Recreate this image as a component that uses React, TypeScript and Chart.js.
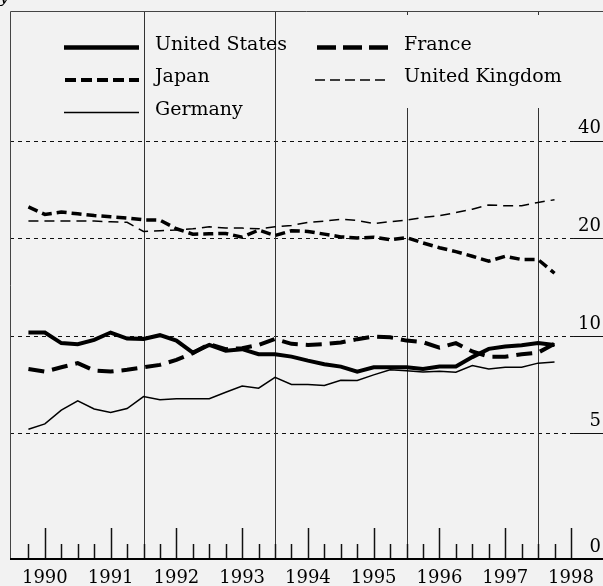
import React, { useEffect, useRef } from "react";
import { Chart, registerables } from "chart.js";

Chart.register(...registerables);

// ---------- data ----------
const quarters = [
  "1989Q4",
  "1990Q1", "1990Q2", "1990Q3", "1990Q4",
  "1991Q1", "1991Q2", "1991Q3", "1991Q4",
  "1992Q1", "1992Q2", "1992Q3", "1992Q4",
  "1993Q1", "1993Q2", "1993Q3", "1993Q4",
  "1994Q1", "1994Q2", "1994Q3", "1994Q4",
  "1995Q1", "1995Q2", "1995Q3", "1995Q4",
  "1996Q1", "1996Q2", "1996Q3", "1996Q4",
  "1997Q1", "1997Q2", "1997Q3", "1997Q4",
];

const unitedStates = [
  10.24, 10.24, 9.5, 9.43, 9.72, 10.24, 9.81, 9.79, 10.05, 9.67, 8.88,
  9.38, 9.0, 9.1, 8.78, 8.78, 8.63, 8.39, 8.18, 8.04, 7.76, 8.0,
  8.0, 8.0, 7.91, 8.04, 8.04, 8.6, 9.12, 9.27, 9.36, 9.5, 9.38,
];

const france = [
  7.9, 7.76, 8.0, 8.24, 7.82, 7.76, 7.86, 8.0, 8.14, 8.43, 8.84,
  9.43, 9.1, 9.16, 9.38, 9.79, 9.45, 9.38, 9.43, 9.54, 9.77, 9.95,
  9.9, 9.67, 9.56, 9.2, 9.5, 8.95, 8.63, 8.63, 8.78, 8.88, 9.45,
];

const japan = [
  25.0, 23.7, 24.1, 23.8, 23.5, 23.3, 23.1, 22.8, 22.75, 21.4, 20.6,
  20.65, 20.7, 20.15, 21.2, 20.4, 21.1, 21.0, 20.6, 20.2, 20.05, 20.15,
  19.8, 20.1, 19.35, 18.7, 18.2, 17.6, 17.0, 17.6, 17.2, 17.2, 15.6,
];

const unitedKingdom = [
  22.6, 22.6, 22.6, 22.6, 22.6, 22.5, 22.4, 21.0, 21.1, 21.2, 21.4,
  21.7, 21.5, 21.5, 21.4, 21.7, 21.9, 22.4, 22.6, 22.9, 22.7, 22.2,
  22.5, 22.75, 23.2, 23.5, 24.0, 24.6, 25.35, 25.2, 25.2, 25.8, 26.3,
];

const germany = [
  5.15, 5.35, 5.9, 6.3, 5.95, 5.8, 5.97, 6.5, 6.35, 6.4, 6.4,
  6.4, 6.7, 7.0, 6.9, 7.45, 7.08, 7.08, 7.03, 7.3, 7.28, 7.58,
  7.86, 7.8, 7.74, 7.78, 7.72, 8.1, 7.9, 8.0, 8.0, 8.24, 8.3,
];

const yearTicks = [1990, 1991, 1992, 1993, 1994, 1995, 1996, 1997, 1998];
const yTickValues = [5, 10, 20, 40];
const yFloorLabel = "0";
const dividerYears = [1991.5, 1993.5, 1995.5, 1997.5];

// ---------- axis ranges & styling ----------
const X_MIN = 1989.4697;
const X_MAX = 1998.0455;
const Y_MIN = 2.05;
const Y_MAX = 100.5;
const FONT = '"DejaVu Serif", serif';
const BG = "#f2f2f2";
const INK = "#000";

const quarterToX = (q: string) => {
  const yr = parseInt(q.slice(0, 4), 10);
  const qn = parseInt(q.slice(5), 10);
  return yr + (qn - 1) * 0.25;
};

const toPoints = (vals: number[]) =>
  quarters.map((q, i) => ({ x: quarterToX(q), y: vals[i] }));

type SeriesStyle = {
  label: string;
  data: number[];
  width: number;
  dash: number[];
  legendDash: number[];
  legendWidth: number;
};

const series: SeriesStyle[] = [
  { label: "United States", data: unitedStates, width: 4, dash: [], legendDash: [], legendWidth: 4.5 },
  { label: "France", data: france, width: 4, dash: [16, 8], legendDash: [19, 7], legendWidth: 4.5 },
  { label: "Japan", data: japan, width: 3.5, dash: [10, 5], legendDash: [11, 5], legendWidth: 4 },
  { label: "United Kingdom", data: unitedKingdom, width: 1.5, dash: [10, 6], legendDash: [10, 5], legendWidth: 1.5 },
  { label: "Germany", data: germany, width: 1.5, dash: [], legendDash: [], legendWidth: 1.5 },
];

// legend layout: [series index, sample start x, sample end x, text x, baseline y]
const legendLayout: [number, number, number, number, number][] = [
  [0, 64, 139, 155, 49.5],
  [1, 317, 389, 404, 49.5],
  [2, 65, 139, 155, 82],
  [3, 315, 386, 404, 82],
  [4, 64, 139, 155, 114.5],
];

const bgPlugin = {
  id: "bgFill",
  beforeDraw(chart: any) {
    const { ctx, width, height } = chart;
    ctx.save();
    ctx.fillStyle = BG;
    ctx.fillRect(0, 0, width, height);
    ctx.restore();
  },
};

const decorPlugin = {
  id: "decor",
  beforeDatasetsDraw(chart: any) {
    const { ctx, chartArea, scales } = chart;
    const { left, right, top, bottom } = chartArea;
    const x = scales.x;
    const y = scales.y;
    const W = chart.width;
    ctx.save();

    // horizontal reference lines
    ctx.lineWidth = 1;
    ctx.strokeStyle = "#111";
    for (const v of yTickValues) {
      const py = Math.round(y.getPixelForValue(v)) + 0.5;
      ctx.setLineDash([4, 4]);
      ctx.beginPath();
      ctx.moveTo(left, py);
      ctx.lineTo(right, py);
      ctx.stroke();
      ctx.setLineDash([]);
      ctx.beginPath();
      ctx.moveTo(right, py);
      ctx.lineTo(W, py);
      ctx.stroke();
    }

    // vertical dividers
    ctx.strokeStyle = "#333";
    ctx.lineWidth = 1;
    dividerYears.forEach((yr, i) => {
      const px = Math.round(x.getPixelForValue(yr)) + 0.5;
      ctx.beginPath();
      if (i < 2) {
        ctx.moveTo(px, top);
        ctx.lineTo(px, bottom);
      } else {
        ctx.moveTo(px, top);
        ctx.lineTo(px, top + 4);
        ctx.moveTo(px, top + 97);
        ctx.lineTo(px, bottom);
      }
      ctx.stroke();
    });

    // bottom quarter / year ticks
    ctx.strokeStyle = "#111";
    ctx.lineWidth = 1.5;
    const tickPositions = quarters.map(quarterToX).concat([yearTicks[yearTicks.length - 1]]);
    for (const t of tickPositions) {
      const px = Math.round(x.getPixelForValue(t)) + 0.5;
      const isYear = Math.abs(t - Math.round(t)) < 1e-6;
      ctx.beginPath();
      ctx.moveTo(px, bottom);
      ctx.lineTo(px, bottom - (isYear ? 31 : 15));
      ctx.stroke();
    }

    // frame: left and top
    ctx.strokeStyle = "#444";
    ctx.lineWidth = 1;
    ctx.beginPath();
    ctx.moveTo(left + 0.5, bottom);
    ctx.lineTo(left + 0.5, top + 0.5);
    ctx.lineTo(W, top + 0.5);
    ctx.stroke();

    // baseline
    ctx.strokeStyle = INK;
    ctx.lineWidth = 2;
    ctx.beginPath();
    ctx.moveTo(left, bottom);
    ctx.lineTo(W, bottom);
    ctx.stroke();

    ctx.restore();
  },
  afterDraw(chart: any) {
    const { ctx } = chart;
    ctx.save();
    // legend
    ctx.strokeStyle = INK;
    ctx.fillStyle = INK;
    ctx.font = `19px ${FONT}`;
    ctx.textBaseline = "alphabetic";
    ctx.textAlign = "left";
    for (const [si, x0, x1, tx, by] of legendLayout) {
      const s = series[si];
      const ly = by - 2;
      ctx.lineWidth = s.legendWidth;
      ctx.setLineDash(s.legendDash);
      ctx.beginPath();
      ctx.moveTo(x0, ly);
      ctx.lineTo(x1, ly);
      ctx.stroke();
      ctx.setLineDash([]);
      ctx.fillText(s.label, tx, by);
    }
    // clipped fragment of the heading at the top-left corner
    ctx.font = `italic 18px ${FONT}`;
    ctx.fillText("y", -1, 2);
    ctx.restore();
  },
};

export default function App() {
  const canvasRef = useRef<HTMLCanvasElement | null>(null);

  useEffect(() => {
    if (!canvasRef.current) return;
    const chart = new Chart(canvasRef.current, {
      type: "line",
      data: {
        datasets: series.map((s) => ({
          label: s.label,
          data: toPoints(s.data),
          borderColor: INK,
          backgroundColor: INK,
          borderWidth: s.width,
          borderDash: s.dash,
          pointRadius: 0,
          tension: 0,
          fill: false,
        })),
      },
      options: {
        animation: false,
        responsive: false,
        devicePixelRatio: 1,
        layout: { padding: { left: 10, top: 11, right: 0, bottom: 0 } },
        plugins: {
          legend: { display: false },
          tooltip: { enabled: false },
        },
        scales: {
          x: {
            type: "linear",
            min: X_MIN,
            max: X_MAX,
            afterBuildTicks: (s: any) => {
              s.ticks = yearTicks.map((v) => ({ value: v }));
            },
            ticks: {
              callback: (v: any) => String(v),
              font: { family: FONT, size: 18 },
              color: INK,
              padding: 9,
              maxRotation: 0,
              autoSkip: false,
            },
            grid: { display: false, drawTicks: false },
            border: { display: false },
            afterFit: (s: any) => {
              s.height = 27;
            },
          },
          y: {
            type: "logarithmic",
            position: "right",
            min: Y_MIN,
            max: Y_MAX,
            afterBuildTicks: (s: any) => {
              s.ticks = [Y_MIN, ...yTickValues].map((v) => ({ value: v }));
            },
            ticks: {
              callback: (v: any) => (v === Y_MIN ? yFloorLabel : String(v)),
              font: { family: FONT, size: 18 },
              color: INK,
              crossAlign: "far",
              padding: 0,
              labelOffset: -12,
              autoSkip: false,
            },
            grid: { display: false, drawTicks: false },
            border: { display: false },
            afterFit: (s: any) => {
              s.width = 27;
            },
          },
        },
      } as any,
      plugins: [bgPlugin, decorPlugin],
    });
    return () => chart.destroy();
  }, []);

  return (
    <div style={{ position: "absolute", left: 0, top: 0, width: 603, height: 586, background: BG }}>
      <canvas ref={canvasRef} width={603} height={586} style={{ display: "block" }} />
    </div>
  );
}
